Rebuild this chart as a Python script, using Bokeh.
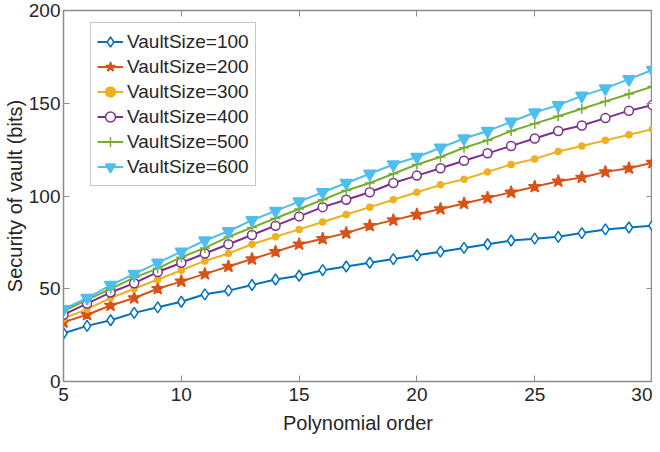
from bokeh.plotting import figure
from bokeh.models import LinearAxis, FixedTicker, Range1d, Legend
from bokeh.embed import file_html
from bokeh.resources import INLINE

orders = list(range(5, 31))
vs100 = [26, 30, 33, 37, 40, 43, 47, 49, 52, 55, 57, 60, 62, 64, 66, 68, 70, 72, 74, 76, 77, 78, 80, 82, 83, 84]
vs200 = [32, 36, 41, 45, 50, 54, 58, 62, 66, 70, 74, 77, 80, 84, 87, 90, 93, 96, 99, 102, 105, 108, 110, 113, 115, 118]
vs300 = [34, 39, 45, 50, 55, 60, 65, 69, 74, 78, 82, 86, 90, 94, 98, 102, 106, 109, 113, 117, 120, 124, 127, 130, 133, 136]
vs400 = [36, 42, 48, 53, 59, 64, 69, 74, 79, 84, 89, 94, 98, 102, 107, 111, 115, 119, 123, 127, 131, 135, 138, 142, 146, 149]
vs500 = [38, 44, 50, 56, 61, 67, 72, 78, 83, 88, 93, 98, 103, 107, 112, 117, 121, 126, 130, 135, 139, 143, 147, 151, 155, 159]
vs600 = [39, 45, 52, 58, 64, 70, 76, 81, 87, 92, 97, 102, 107, 112, 117, 121, 126, 131, 135, 140, 145, 149, 154, 158, 163, 168]
labels = ["VaultSize=100", "VaultSize=200", "VaultSize=300", "VaultSize=400", "VaultSize=500", "VaultSize=600"]
x_ticks = [5, 10, 15, 20, 25, 30]
y_ticks = [0, 50, 100, 150, 200]

FONT = "Liberation Sans"
TXT = "#262626"
AX = "#8c8c8c"

p = figure(width=652, height=436, output_backend="svg", toolbar_location=None,
           x_range=Range1d(5, 30), y_range=Range1d(0, 200),
           min_border_left=0, min_border_right=0, min_border_top=10, min_border_bottom=0)
p.grid.visible = False
p.outline_line_color = AX
p.outline_line_width = 1.5

for ax in (p.xaxis[0], p.yaxis[0]):
    ax.major_tick_in = 6
    ax.major_tick_out = 0
    ax.minor_tick_line_color = None
    ax.axis_line_color = AX
    ax.major_tick_line_color = AX
    ax.major_label_text_font = FONT
    ax.major_label_text_font_size = "19px"
    ax.major_label_text_color = TXT
    ax.axis_label_text_font = FONT
    ax.axis_label_text_font_size = "20px"
    ax.axis_label_text_font_style = "normal"
    ax.axis_label_text_color = TXT
p.xaxis[0].ticker = FixedTicker(ticks=x_ticks)
p.yaxis[0].ticker = FixedTicker(ticks=y_ticks)
p.xaxis[0].axis_label = "Polynomial order"
p.yaxis[0].axis_label = "Security of vault (bits)"
p.xaxis[0].major_label_standoff = 6
p.yaxis[0].major_label_standoff = 3
p.xaxis[0].axis_label_standoff = 8
p.yaxis[0].axis_label_standoff = 0

top = LinearAxis(ticker=FixedTicker(ticks=x_ticks),
                 major_label_overrides={t: "" for t in x_ticks}, major_label_standoff=0,
                 major_tick_in=6, major_tick_out=0, minor_tick_line_color=None,
                 axis_line_color=AX, major_tick_line_color=AX)
right = LinearAxis(ticker=FixedTicker(ticks=y_ticks),
                   major_label_overrides={t: "" for t in y_ticks}, major_label_standoff=0,
                   major_tick_in=6, major_tick_out=0, minor_tick_line_color=None,
                   axis_line_color=AX, major_tick_line_color=AX)
p.add_layout(top, "above")
p.add_layout(right, "right")

series = [vs100, vs200, vs300, vs400, vs500, vs600]
colors = ["#0072BD", "#D95319", "#EDB120", "#7E2F8E", "#77AC30", "#4DBEEE"]
markers = ["diamond", "star", "circle", "circle", "cross", "inverted_triangle"]
sizes = [11, 13, 6, 9, 10, 12]
fills = ["white", None, None, "white", None, None]

items = []
for s, c, m, sz, f, lab in zip(series, colors, markers, sizes, fills, labels):
    r1 = p.line(orders, s, line_color=c, line_width=2)
    r2 = p.scatter(orders, s, marker=m, size=sz, line_color=c, line_width=1.5,
                   fill_color=(f if f else c))
    items.append((lab, [r1, r2]))

leg = Legend(items=items, location=(27, 195))
leg.label_text_font = FONT
leg.label_text_font_size = "19px"
leg.label_text_color = TXT
leg.label_height = 25
leg.glyph_height = 25
leg.glyph_width = 26
leg.spacing = 0
leg.padding = 6
leg.margin = 0
leg.label_standoff = 4
leg.border_line_color = AX
leg.border_line_width = 1.2
leg.background_fill_color = "white"
leg.background_fill_alpha = 1
p.add_layout(leg)

open("out.html", "w").write(file_html(p, INLINE))
